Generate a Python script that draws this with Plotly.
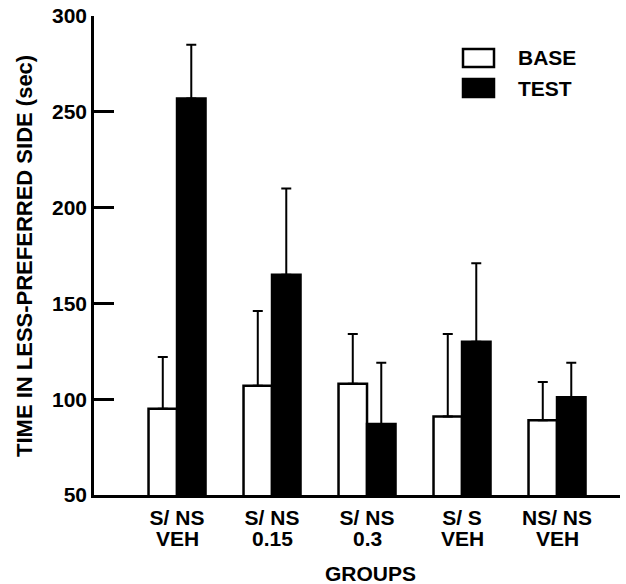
import plotly.graph_objects as go

group_line1 = ["S/ NS", "S/ NS", "S/ NS", "S/ S", "NS/ NS"]
group_line2 = ["VEH", "0.15", "0.3", "VEH", "VEH"]
groups = [a + "|" + b for a, b in zip(group_line1, group_line2)]
base_mean = [95, 107, 108, 91, 89]
base_err = [27, 39, 26, 43, 20]
test_mean = [257, 165, 87, 130, 101]
test_err = [28, 45, 32, 41, 18]
y_ticks = [50, 100, 150, 200, 250, 300]

FONT = "Liberation Sans, Arial, Helvetica, sans-serif"
BOLD = dict(family=FONT, size=21, color="black", weight="bold")

fig = go.Figure()
fig.add_trace(go.Bar(
    name="BASE", x=groups, y=base_mean,
    marker=dict(color="white", line=dict(color="black", width=2.5)),
    error_y=dict(type="data", symmetric=False, array=base_err,
                 arrayminus=[0] * len(base_err), color="black",
                 thickness=2, width=5),
))
fig.add_trace(go.Bar(
    name="TEST", x=groups, y=test_mean,
    marker=dict(color="black", line=dict(color="black", width=2.5)),
    error_y=dict(type="data", symmetric=False, array=test_err,
                 arrayminus=[0] * len(test_err), color="black",
                 thickness=2, width=5),
))

W, H = 626, 584
L, R, T, B = 94, 6, 16, 89
pw, ph = W - L - R, H - T - B
def px(x):
    return (x - L) / pw
def py(y):
    return (H - B - y) / ph

shapes = [
    dict(type="rect", xref="paper", yref="paper", x0=px(463), x1=px(494),
         y0=py(67), y1=py(49), line=dict(color="black", width=2.5), fillcolor="white"),
    dict(type="rect", xref="paper", yref="paper", x0=px(463), x1=px(494),
         y0=py(97), y1=py(79), line=dict(color="black", width=2.5), fillcolor="black"),
]
annotations = [
    dict(text="BASE", xref="paper", yref="paper", x=px(516), y=py(58),
         xanchor="left", yanchor="middle", showarrow=False, font=BOLD),
    dict(text="TEST", xref="paper", yref="paper", x=px(516), y=py(88),
         xanchor="left", yanchor="middle", showarrow=False, font=BOLD),
    dict(text="TIME IN LESS-PREFERRED SIDE (sec)", xref="paper", yref="paper",
         x=px(24), y=py(256), xanchor="center", yanchor="middle", textangle=-90,
         showarrow=False, font=dict(family=FONT, size=22, color="black", weight="bold")),
    dict(text="GROUPS", xref="paper", yref="paper", x=px(370), y=py(573),
         xanchor="center", yanchor="middle", showarrow=False, font=BOLD),
]
# second line of the group labels
for g, l2 in zip(groups, group_line2):
    annotations.append(dict(text=l2, xref="x", yref="paper", x=g, y=py(538),
                            xanchor="center", yanchor="middle", showarrow=False,
                            font=BOLD))

fig.update_layout(
    width=W, height=H,
    margin=dict(l=L, r=R, t=T, b=B, autoexpand=False),
    paper_bgcolor="white", plot_bgcolor="white",
    barmode="group", bargap=0.4, bargroupgap=0,
    showlegend=False,
    font=dict(family=FONT, size=21, color="black", weight="bold"),
    shapes=shapes, annotations=annotations,
)
fig.update_xaxes(
    type="category", range=[-0.874, 4.663], automargin=False,
    tickvals=groups, ticktext=group_line1,
    showline=True, linecolor="black", linewidth=2.5,
    ticks="", showgrid=False, zeroline=False,
    tickfont=BOLD, ticklabelstandoff=2,
)
fig.update_yaxes(
    range=[50, 300], tickvals=y_ticks, automargin=False,
    showline=True, linecolor="black", linewidth=2.5,
    ticks="inside", ticklen=20, tickwidth=2.5, tickcolor="black",
    showgrid=False, zeroline=False,
    tickfont=BOLD,
)

fig.write_html("out.html", config={"displayModeBar": False},
               post_script=["document.body.style.margin='0';"])
